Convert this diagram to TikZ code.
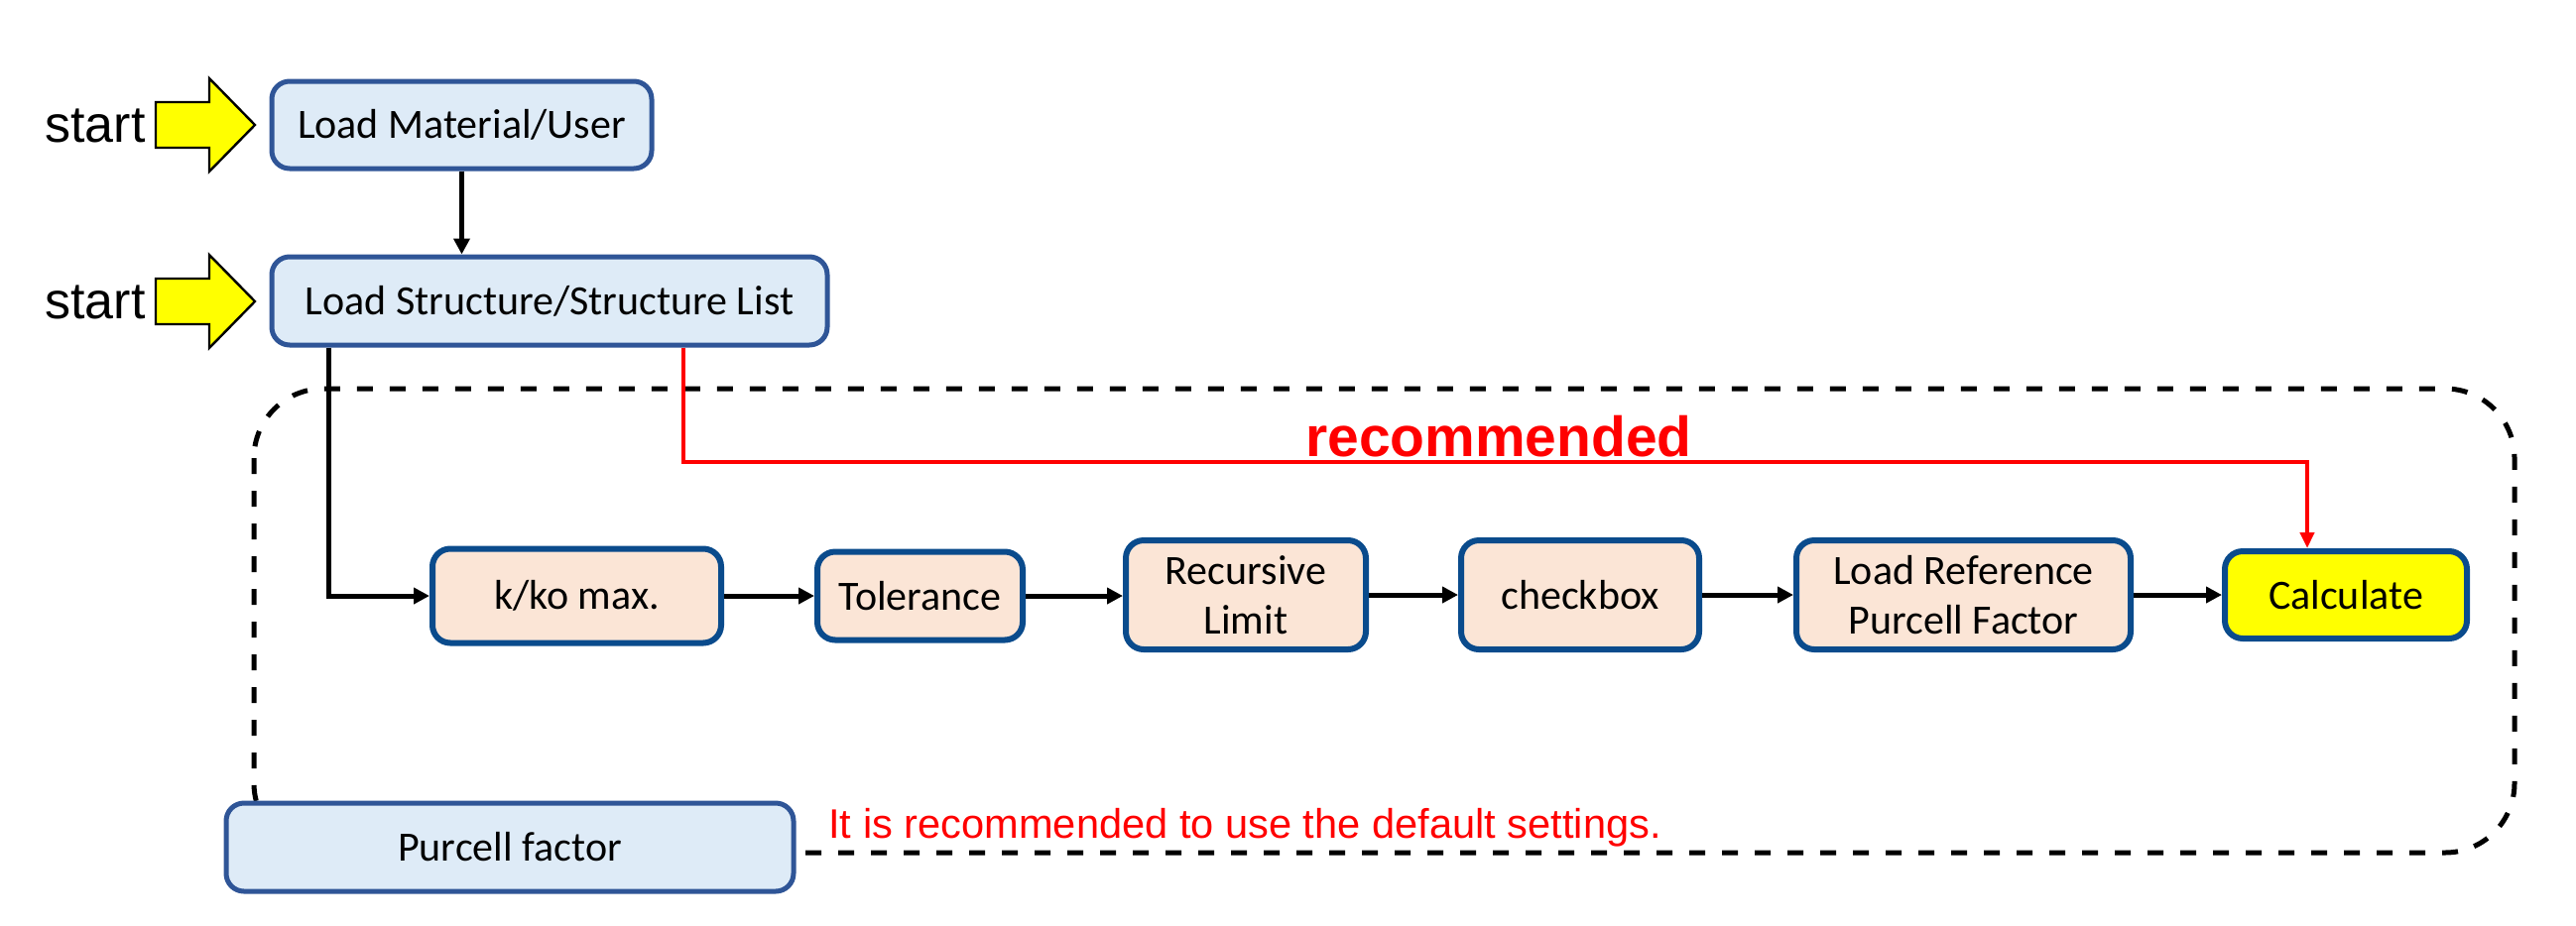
\documentclass[tikz,border=0pt]{standalone}
\usepackage{fontspec}
\setmainfont{Liberation Sans}
\newfontfamily\boxfont{Carlito}
\usetikzlibrary{arrows.meta,calc}
\definecolor{lblue}{RGB}{222,235,247}
\definecolor{lbord}{RGB}{47,85,151}
\definecolor{beige}{RGB}{251,229,214}
\definecolor{bbord}{RGB}{10,75,140}
\definecolor{yel}{RGB}{255,255,0}
\definecolor{rd}{RGB}{255,0,0}
\tikzset{
  topbox/.style={draw=lbord, fill=lblue, line width=2.5pt, rounded corners=9pt,
    inner sep=0pt, align=center, font=\boxfont\fontsize{21}{25}\selectfont},
  rowbox/.style={draw=bbord, fill=beige, line width=3pt, rounded corners=9pt,
    inner sep=0pt, align=center, font=\boxfont\fontsize{21}{25}\selectfont},
  calcbox/.style={rowbox, fill=yel},
  arr/.style={line width=2.5pt, -{Triangle[length=8pt,width=8pt]}},
  redarr/.style={draw=rd, line width=2pt, -{Triangle[length=8pt,width=7pt]}},
  startarrow/.style={draw=black, fill=yel, line width=1.2pt, line join=miter},
  starttext/.style={font=\fontsize{26}{30}\selectfont, inner sep=0pt},
  dashbox/.style={draw=black, line width=2.5pt, dash pattern=on 8pt off 8.5pt, rounded corners=35pt}
}
\begin{document}
\begin{tikzpicture}[x=0.5pt,y=-0.5pt]
\useasboundingbox (0,0) rectangle (2597,933);

% start arrows and labels
\node[starttext] (st1) at (96,127) {start};
\node[starttext] (st2) at (96,305) {start};
\draw[startarrow] (157,103) -- (211,103) -- (211,79) -- (257,126) -- (211,173) -- (211,149) -- (157,149) -- cycle;
\draw[startarrow] (157,281) -- (211,281) -- (211,257) -- (257,304) -- (211,351) -- (211,327) -- (157,327) -- cycle;

% dashed group
\draw[dashbox] (256,392) rectangle (2535,860);

% top boxes
\node[topbox, minimum width=191.5pt, minimum height=44pt] (b1) at (465.5,126) {Load Material/User};
\node[topbox, minimum width=280pt, minimum height=44.5pt] (b2) at (554,303.5) {Load Structure/Structure List};

% row boxes
\node[rowbox, minimum width=145.5pt, minimum height=47.5pt] (kk) at (581.5,601) {k/ko max.};
\node[rowbox, minimum width=103.5pt, minimum height=44.5pt] (tol) at (927.5,601) {Tolerance};
\node[rowbox, minimum width=121pt, minimum height=55pt] (rec) at (1256,600) {Recursive\\Limit};
\node[rowbox, minimum width=120pt, minimum height=55pt] (chk) at (1593,600) {checkbox};
\node[rowbox, minimum width=168.5pt, minimum height=55pt] (ref) at (1979.5,600) {Load Reference\\Purcell Factor};
\node[calcbox, minimum width=122pt, minimum height=44pt] (calc) at (2365,600) {Calculate};

% purcell factor box
\node[topbox, minimum width=286pt, minimum height=44.5pt] (pf) at (514,854.5) {Purcell factor};

% connectors
\draw[arr] (b1.south) -- (b1.south |- b2.north);
\coordinate (s1) at ([xshift=30pt]b2.south west);
\draw[arr] (s1) |- (kk.west);
\draw[arr] (kk.east) -- (tol.west);
\draw[arr] (tol.east) -- (tol.east -| rec.west);
\draw[arr] (rec.east) -- (chk.west);
\draw[arr] (chk.east) -- (ref.west);
\draw[arr] (ref.east) -- (calc.west);

% recommended path
\coordinate (s2) at ([xshift=208.5pt]b2.south west);
\coordinate (rc) at (2326,466);
\draw[redarr] (s2) |- (rc) -- (rc |- calc.north);
\node[anchor=base, inner sep=0pt, text=rd, font=\bfseries\fontsize{28.5}{32}\selectfont] (recl) at (1511,460) {recommended};

% note
\node[anchor=base west, inner sep=0pt, text=rd, font=\fontsize{20.8}{25}\selectfont] (note) at (835,845) {It is recommended to use the default settings.};
\end{tikzpicture}
\end{document}
